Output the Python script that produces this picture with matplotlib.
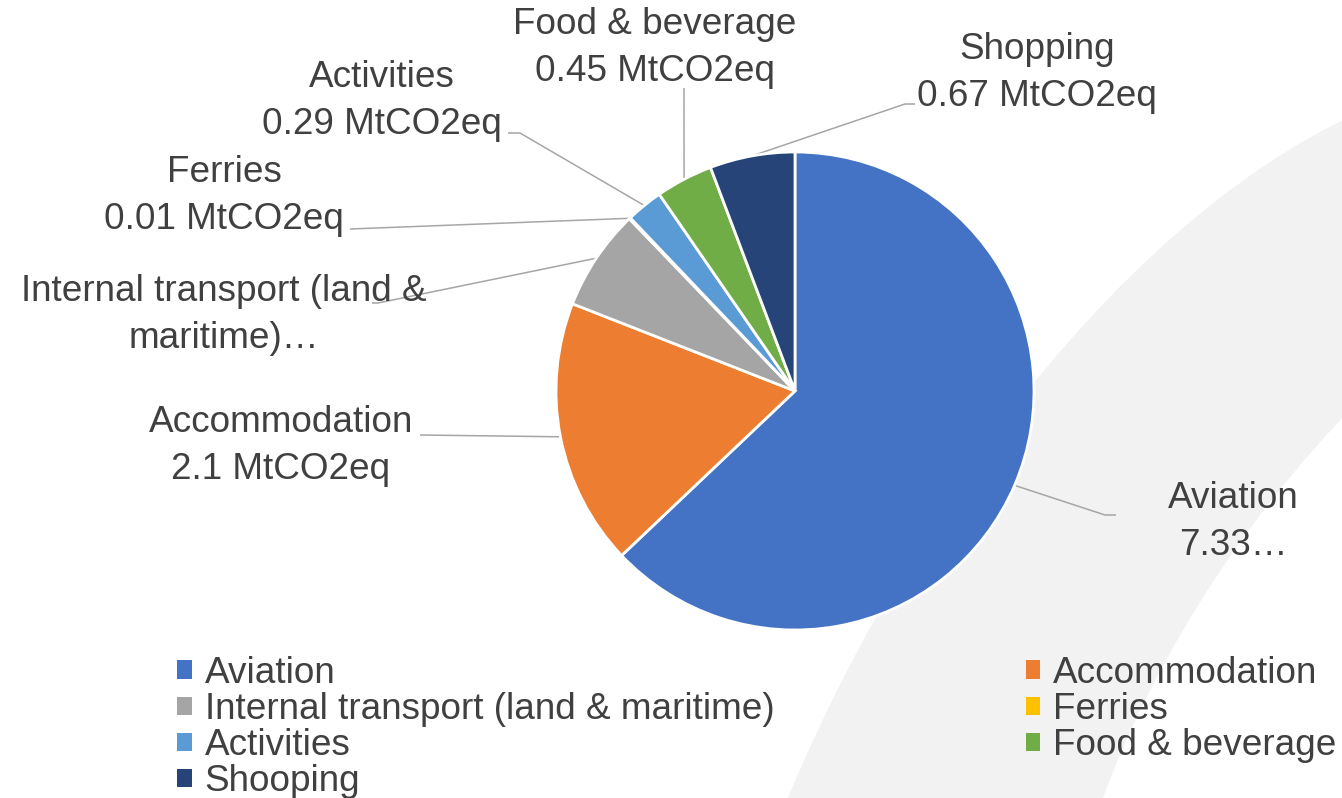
import numpy as np
import matplotlib
matplotlib.use("Agg")
import matplotlib.pyplot as plt
from matplotlib.path import Path
from matplotlib.patches import PathPatch

plt.rcParams['font.family'] = ['Liberation Sans', 'DejaVu Sans']

# ---- data ----
categories = ['Aviation', 'Accommodation', 'Internal transport (land & maritime)',
              'Ferries', 'Activities', 'Food & beverage', 'Shopping']
values = [7.33, 2.1, 0.8, 0.01, 0.29, 0.45, 0.67]
colors = ['#4472C4', '#ED7D31', '#A5A5A5', '#FFC000', '#5B9BD5', '#70AD47', '#264478']
legend_labels = ['Aviation', 'Accommodation', 'Internal transport (land & maritime)',
                 'Ferries', 'Activities', 'Food & beverage', 'Shooping']
data_labels = ['Aviation\n7.33…', 'Accommodation\n2.1 MtCO2eq',
               'Internal transport (land &\nmaritime)…', 'Ferries\n0.01 MtCO2eq',
               'Activities\n0.29 MtCO2eq', 'Food & beverage\n0.45 MtCO2eq',
               'Shopping\n0.67 MtCO2eq']

# ---- layout (pixel coordinates, y downward) ----
W, H = 1342, 798
center = (795, 391)
radius = 239
label_xy = [(1233, 522), (281, 446), (224, 315), (224, 196), (382, 101), (655, 48), (1037, 73)]
leader_pts = [[(1105, 515), (1116, 515)],
              [(420, 435)],
              [(378, 303), (372, 303)],
              [(350, 229)],
              [(520, 133), (508, 133)],
              [(684, 88)],
              [(905, 104), (915, 104)]]
text_color = '#404040'
line_color = '#A6A6A6'
fs = 26.6

fig = plt.figure(figsize=(W / 100, H / 100), dpi=100)
ax = fig.add_axes([0, 0, 1, 1])

# decorative background crescent
verts = [(1360, 112), (1100, 230), (880, 560), (775, 830),
         (1092, 830),
         (1140, 680), (1240, 520), (1360, 400),
         (1360, 112)]
codes = [Path.MOVETO, Path.CURVE4, Path.CURVE4, Path.CURVE4,
         Path.LINETO,
         Path.CURVE4, Path.CURVE4, Path.CURVE4,
         Path.CLOSEPOLY]
ax.add_patch(PathPatch(Path(verts, codes), facecolor='#F2F2F2', edgecolor='none', zorder=0))

wedges, _ = ax.pie(values, colors=colors, center=center, radius=radius,
                   startangle=-90, counterclock=True,
                   wedgeprops=dict(edgecolor='white', linewidth=2))
for w in wedges:
    w.set_zorder(2)

ax.set_xlim(0, W)
ax.set_ylim(H, 0)
ax.set_aspect('equal')
ax.axis('off')

for w, lab, pos, pts in zip(wedges, data_labels, label_xy, leader_pts):
    ang = np.deg2rad((w.theta1 + w.theta2) / 2)
    x0 = center[0] + radius * np.cos(ang)
    y0 = center[1] + radius * np.sin(ang)
    xs = [x0] + [p[0] for p in pts]
    ys = [y0] + [p[1] for p in pts]
    ax.plot(xs, ys, color=line_color, lw=1.1, zorder=1.5, solid_capstyle='butt')
    ax.text(pos[0], pos[1], lab, ha='center', va='center', multialignment='center',
            fontsize=fs, color=text_color, linespacing=1.42, zorder=3)

order = [0, 2, 4, 6, 1, 3, 5]
leg = fig.legend([wedges[i] for i in order], [legend_labels[i] for i in order],
                 ncol=2, loc='upper left', bbox_to_anchor=(177 / W, 1 - 656 / H),
                 frameon=False, fontsize=fs, handlelength=0.4, handleheight=0.4,
                 handletextpad=0.35, columnspacing=6.8, labelspacing=0.03,
                 borderpad=0, borderaxespad=0)
for t in leg.get_texts():
    t.set_color(text_color)
for h in leg.legend_handles:
    h.set_linewidth(0)

fig.savefig('out.png', dpi=100)
